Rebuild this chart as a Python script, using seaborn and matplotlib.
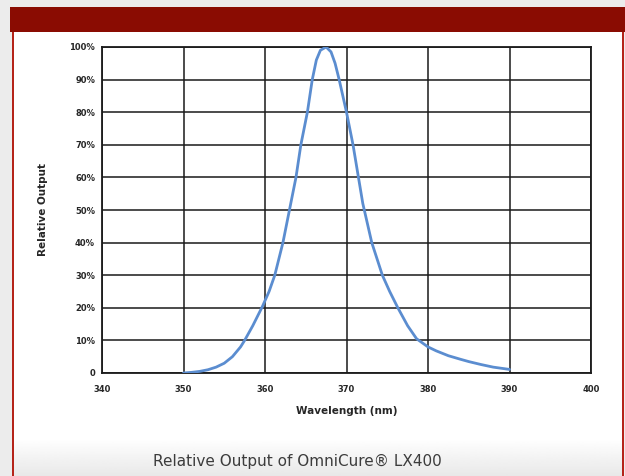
import numpy as np
import pandas as pd
import matplotlib
matplotlib.use("Agg")
import matplotlib.pyplot as plt
from matplotlib.patches import Rectangle
import seaborn as sns

# values
wavelength = [350, 351, 352, 353, 354, 355, 356, 357, 357.5, 358.5,
              359.7, 360.5, 361.2, 362.2, 363.0, 363.8, 364.4, 365.2, 365.8, 366.3,
              366.8, 367.5, 368.1, 368.6, 369.1, 370.0, 370.8, 371.4, 372.0, 373.1,
              374.4, 375.3, 376.3, 377.5, 378.6, 380, 381, 382.5, 384, 385,
              386.5, 388, 390]
output = [0, 0.2, 0.5, 1.0, 1.8, 3, 5, 8, 10, 14.5,
          20.5, 25, 30, 40, 50, 60, 70, 80, 90, 96,
          99, 100, 98.5, 95, 90, 80, 70, 61, 52, 40,
          30, 25, 20, 14.5, 10.5, 8, 6.8, 5.3, 4.2, 3.5,
          2.6, 1.8, 1.1]

x_ticks = [340, 350, 360, 370, 380, 390, 400]
y_ticks = [0, 10, 20, 30, 40, 50, 60, 70, 80, 90, 100]
y_labels = ['0'] + [f'{v}%' for v in y_ticks[1:]]

df = pd.DataFrame({'Wavelength': wavelength, 'Output': output})

sns.set_style("white")
plt.rcParams['font.family'] = ['DejaVu Sans']

W, H = 625, 476
fig = plt.figure(figsize=(W / 100, H / 100), dpi=100, facecolor='#ececec')

red = '#8a0c02'


# frame decorations (pixel coords -> figure fraction)
def px_rect(x0, y0, x1, y1, **kw):
    fig.patches.append(Rectangle((x0 / W, 1 - y1 / H), (x1 - x0) / W, (y1 - y0) / H,
                                 transform=fig.transFigure, **kw))


px_rect(12, 32, 623, 476, facecolor='white', edgecolor='none', zorder=0)
# bottom gradient
gax = fig.add_axes([12 / W, 0, (623 - 12) / W, (476 - 438) / H], zorder=0.5)
grad = np.linspace(1.0, 0.91, 50).reshape(-1, 1)
gax.imshow(grad, aspect='auto', cmap='gray', vmin=0, vmax=1, extent=[0, 1, 0, 1],
           origin='upper')
gax.axis('off')
px_rect(10, 7, 625, 32, facecolor=red, edgecolor='none', zorder=1)
px_rect(11.5, 32, 13.5, 476, facecolor='#b5241a', edgecolor='none', zorder=1)
px_rect(622, 32, 624, 476, facecolor='#b5241a', edgecolor='none', zorder=1)

ax = fig.add_axes([102 / W, 1 - 373 / H, 489 / W, 326 / H], zorder=2)
sns.lineplot(data=df, x='Wavelength', y='Output', ax=ax,
             color='#5b8dd0', linewidth=2.0, zorder=3,
             solid_joinstyle='round', solid_capstyle='round')

ax.set_xlim(340, 400)
ax.set_ylim(0, 100)
ax.set_xticks(x_ticks)
ax.set_yticks(y_ticks)
ax.set_xticklabels([str(t) for t in x_ticks], fontsize=6, fontweight='bold')
ax.set_yticklabels(y_labels, fontsize=6, fontweight='bold')
ax.tick_params(axis='x', length=0, pad=9)
ax.tick_params(axis='y', length=0, pad=5)
ax.grid(True, color='#1a1a1a', linewidth=1.1)
ax.set_axisbelow(True)
for s in ax.spines.values():
    s.set_visible(True)
    s.set_color('#1a1a1a')
    s.set_linewidth(1.3)
ax.set_facecolor('white')

ax.set_xlabel('Wavelength (nm)', fontsize=7.5, fontweight='bold', labelpad=8)
ax.set_ylabel('Relative Output', fontsize=7.5, fontweight='bold', labelpad=15)

fig.text(297 / W, 1 - 461 / H, 'Relative Output of OmniCure® LX400',
         ha='center', va='center', fontsize=11, color='#3c3c3c', zorder=3)

plt.savefig('out.png', dpi=100, facecolor=fig.get_facecolor())
